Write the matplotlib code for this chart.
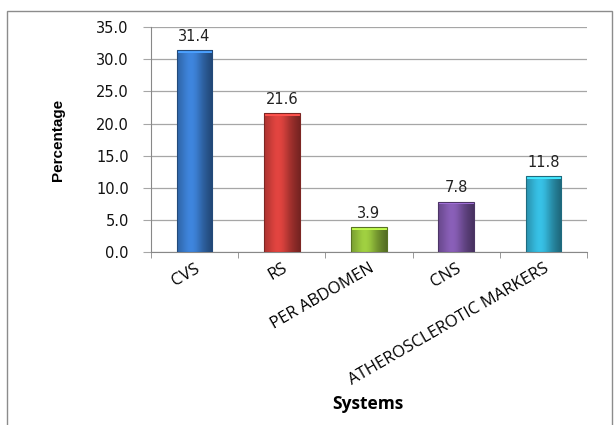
import numpy as np
import matplotlib
matplotlib.use('Agg')
import matplotlib.pyplot as plt
from matplotlib.colors import to_rgb
from matplotlib.patches import Rectangle

systems = ['CVS', 'RS', 'PER ABDOMEN', 'CNS', 'ATHEROSCLEROTIC MARKERS']
percentage = [31.4, 21.6, 3.9, 7.8, 11.8]
bar_colors = ['#3a7bcc', '#d13f3b', '#94c03c', '#7f58aa', '#33b2d4']
yticks = [0, 5, 10, 15, 20, 25, 30, 35]

fig = plt.figure(figsize=(6.16, 4.25), dpi=100)
ax = fig.add_axes([0.245, 0.407, 0.708, 0.529])

# outer chart frame
fig.add_artist(Rectangle((7 / 616, -0.05), 605 / 616, 1.05 - 11 / 425,
                         transform=fig.transFigure, fill=False,
                         edgecolor='#8c8c8c', linewidth=1.0))

x = np.arange(len(systems))
width = 0.41
bars = ax.bar(x, percentage, width=width, color='none', edgecolor='none', zorder=3)


def shade(color):
    # horizontal cylinder-like shading, lighter towards the left-centre
    base = np.array(to_rgb(color))
    t = np.linspace(0, 1, 64)
    k = 0.78 + 0.32 * np.exp(-((t - 0.4) / 0.3) ** 2) - 0.22 * t ** 3
    rgb = np.clip(base[None, :] * k[:, None], 0, 1)
    return np.tile(rgb[None, :, :], (8, 1, 1))


for b, c in zip(bars, bar_colors):
    x0, w, h = b.get_x(), b.get_width(), b.get_height()
    im = ax.imshow(shade(c), extent=(x0, x0 + w, 0, h), aspect='auto',
                   zorder=3, interpolation='bilinear')
    im.set_clip_path(b)
    # lighter bevel on top of the bar
    top = np.array(to_rgb(c))
    ax.add_patch(Rectangle((x0, h - 0.4), w, 0.4,
                           facecolor=np.clip(top * 1.3, 0, 1), edgecolor='none', zorder=4))
    ax.add_patch(Rectangle((x0, 0), w, h, fill=False,
                           edgecolor=np.clip(top * 0.6, 0, 1), linewidth=0.8, zorder=5))
    ax.text(x0 + w / 2, h + 1.0, f'{h:.1f}', ha='center', va='bottom',
            fontsize=10.5, color='#222222', family='DejaVu Sans', zorder=6)

ax.set_xlim(-0.5, len(systems) - 0.5)
ax.set_ylim(0, 35)
ax.set_yticks(yticks)
ax.set_yticklabels([f'{v:.1f}' for v in yticks], fontsize=10.5, family='DejaVu Sans')
ax.yaxis.grid(True, color='#a6a6a6', linewidth=0.9, zorder=0)
ax.set_axisbelow(True)

ax.set_xticks(x)
ax.set_xticklabels(systems, rotation=30, ha='right', rotation_mode='anchor',
                   fontsize=12, family='Open Sans')
ax.tick_params(axis='x', length=0, pad=6)
ax.set_xticks(np.arange(-0.5, len(systems)), minor=True)
ax.tick_params(axis='x', which='minor', length=4, color='#888888', direction='out')
ax.tick_params(axis='y', length=6, color='#a6a6a6', pad=10, labelcolor='#111111')

for side in ['top', 'right']:
    ax.spines[side].set_visible(False)
ax.spines['left'].set_color('#888888')
ax.spines['bottom'].set_color('#888888')

fig.text(58 / 616, 1 - 140 / 425, 'Percentage', rotation=90, ha='center', va='center',
         fontsize=11, fontweight='bold', family='Liberation Sans')
fig.text(368 / 616, 1 - 404 / 425, 'Systems', ha='center', va='center',
         fontsize=12.5, fontweight='bold', family='Open Sans')

fig.savefig('out.png', dpi=100)
